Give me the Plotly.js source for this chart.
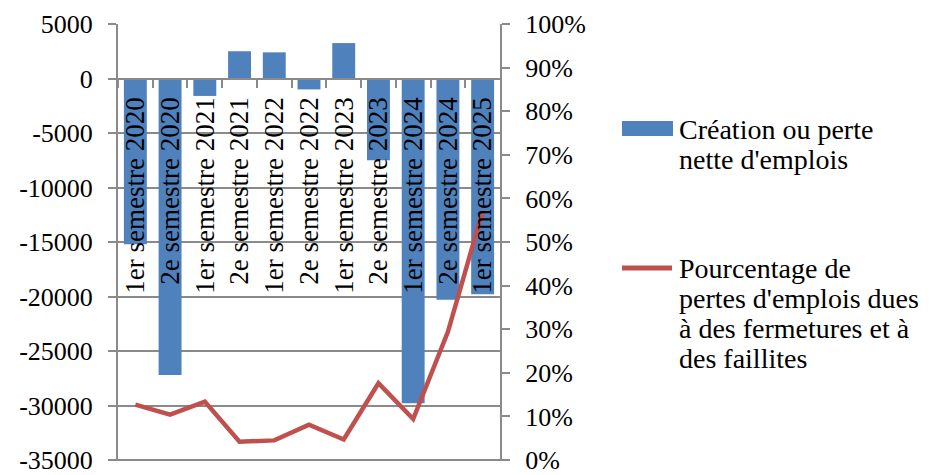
<!DOCTYPE html>
<html>
<head>
<meta charset="utf-8">
<script src="https://cdn.plot.ly/plotly-3.0.1.min.js"></script>
<style>
  html, body { margin: 0; padding: 0; background: #ffffff; }
  #chart { width: 930px; height: 475px; }
</style>
</head>
<body>
<div id="chart"></div>
<script>
// Semesters on the category axis
const categories = [
  "1er semestre 2020", "2e semestre 2020",
  "1er semestre 2021", "2e semestre 2021",
  "1er semestre 2022", "2e semestre 2022",
  "1er semestre 2023", "2e semestre 2023",
  "1er semestre 2024", "2e semestre 2024",
  "1er semestre 2025"
];

// Net job creation / loss per semester
const netJobs = [-15200, -27200, -1600, 2500, 2400, -1000, 3250, -7500, -29800, -20300, -19800];

// Share of job losses due to closures and bankruptcies
const closureShare = [0.127, 0.104, 0.134, 0.042, 0.045, 0.081, 0.047, 0.176, 0.094, 0.294, 0.571];

// Left axis ticks (plain hyphen for negatives)
const leftTickVals = [5000, 0, -5000, -10000, -15000, -20000, -25000, -30000, -35000];
const leftTickText = ["5000", "0", "-5000", "-10000", "-15000", "-20000", "-25000", "-30000", "-35000"];

const seriesNames = [
  ["Création ou perte", "nette d'emplois"],
  ["Pourcentage de", "pertes d'emplois dues", "à des fermetures et à", "des faillites"]
];

const W = 930, H = 475;
const FONT = "Liberation Serif, Times New Roman, serif";
const GRID = "#8a8a8a";
const BLUE = "#4F81BD";
const RED = "#C0504D";
const TICK_SIZE = 26;

// plot box in pixels
const plotLeft = 118, plotRight = 500, plotTop = 24, plotBottom = 460;
const yMin = -35000, yMax = 5000;
const px = x => x / W;
const py = y => 1 - y / H;

// the category axis sits on the zero line of the left axis
const zeroFrac = py(plotBottom) + (0 - yMin) / (yMax - yMin) * (py(plotTop) - py(plotBottom));

const traces = [
  {
    type: "bar",
    x: categories,
    y: netJobs,
    marker: { color: BLUE },
    name: seriesNames[0].join(" "),
    showlegend: false,
    hoverinfo: "x+y"
  },
  {
    type: "scatter",
    mode: "lines",
    x: categories,
    y: closureShare,
    yaxis: "y2",
    line: { color: RED, width: 4.5 },
    name: seriesNames[1].join(" "),
    showlegend: false
  }
];

const shapes = [
  // bottom edge of the plot box, with its outer tick stubs on both axes
  { type: "line", xref: "paper", yref: "paper", layer: "below",
    x0: px(plotLeft - 8), x1: px(plotRight + 8), y0: py(plotBottom), y1: py(plotBottom),
    line: { color: GRID, width: 2 } },
  // hand-laid legend swatches
  { type: "rect", xref: "paper", yref: "paper",
    x0: px(622), x1: px(673), y0: py(136), y1: py(121),
    fillcolor: BLUE, line: { width: 0 } },
  { type: "line", xref: "paper", yref: "paper",
    x0: px(622), x1: px(672), y0: py(268), y1: py(268),
    line: { color: RED, width: 5 } }
];

const annotations = [];
const legendBlocks = [
  { lines: seriesNames[0], firstY: 130 },
  { lines: seriesNames[1], firstY: 268 }
];
legendBlocks.forEach(b => {
  b.lines.forEach((t, i) => {
    annotations.push({
      xref: "paper", yref: "paper",
      x: px(677), y: py(b.firstY + i * 30),
      xanchor: "left", yanchor: "middle",
      text: t, showarrow: false,
      font: { family: FONT, size: 28, color: "#000000" }
    });
  });
});

const layout = {
  width: W, height: H,
  margin: { l: 0, r: 0, t: 0, b: 0 },
  paper_bgcolor: "#ffffff",
  plot_bgcolor: "#ffffff",
  font: { family: FONT, size: TICK_SIZE, color: "#000000" },
  bargap: 0.34,
  showlegend: false,
  xaxis: {
    type: "category",
    domain: [px(plotLeft), px(plotRight)],
    anchor: "free",
    position: zeroFrac,
    showline: true, linecolor: GRID, linewidth: 2,
    ticks: "outside", tickson: "boundaries", ticklen: 8, tickwidth: 2, tickcolor: GRID,
    tickangle: -90,
    ticklabelstandoff: 7,
    showgrid: false, zeroline: false,
    automargin: false,
    tickfont: { family: FONT, size: 27, color: "#000000" }
  },
  yaxis: {
    domain: [py(plotBottom), py(plotTop)],
    range: [yMin, yMax],
    tickmode: "array",
    tickvals: leftTickVals,
    ticktext: leftTickText,
    showline: true, linecolor: GRID, linewidth: 2,
    ticks: "outside", ticklen: 8, tickwidth: 2, tickcolor: GRID,
    showgrid: true, gridcolor: GRID, gridwidth: 2,
    zeroline: false,
    ticklabelstandoff: 10,
    ticklabeloverflow: "allow",
    automargin: false,
    tickfont: { family: FONT, size: TICK_SIZE, color: "#000000" }
  },
  yaxis2: {
    overlaying: "y",
    side: "right",
    anchor: "x",
    range: [0, 1],
    dtick: 0.1,
    tickformat: ".0%",
    showline: true, linecolor: GRID, linewidth: 2,
    ticks: "outside", ticklen: 8, tickwidth: 2, tickcolor: GRID,
    showgrid: false, zeroline: false,
    ticklabelstandoff: 10,
    ticklabeloverflow: "allow",
    automargin: false,
    tickfont: { family: FONT, size: TICK_SIZE, color: "#000000" }
  },
  shapes: shapes,
  annotations: annotations
};

Plotly.newPlot("chart", traces, layout, { displayModeBar: false, staticPlot: true });
</script>
</body>
</html>
